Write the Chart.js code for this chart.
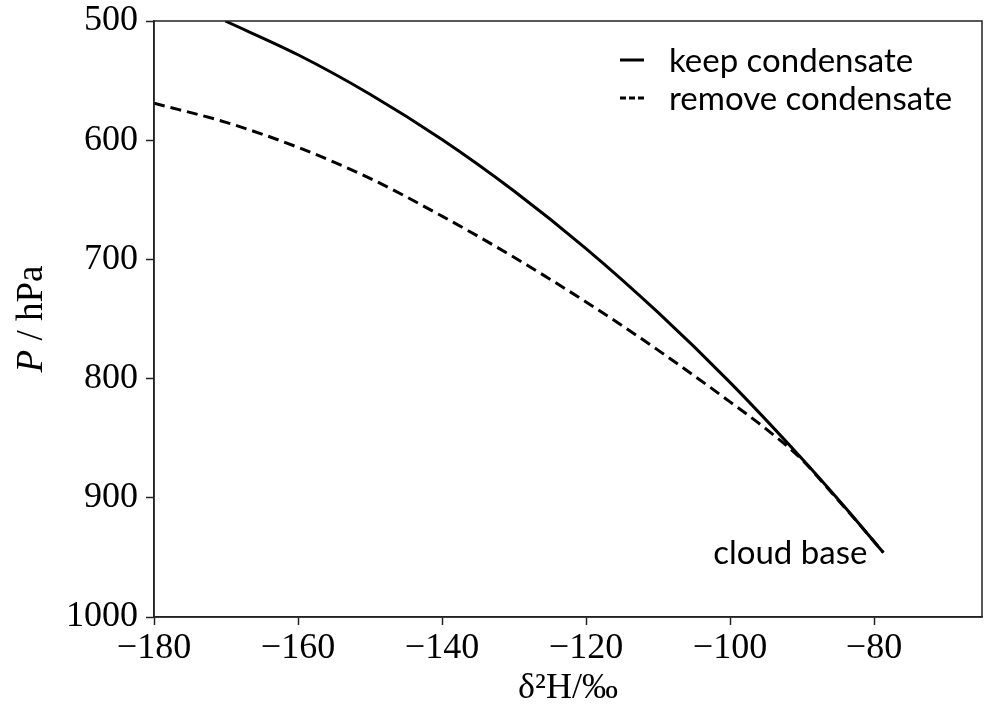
<!DOCTYPE html>
<html>
<head>
<meta charset="utf-8">
<script src="https://cdn.jsdelivr.net/npm/chart.js@4.4.0/dist/chart.umd.min.js"></script>
<style>
  html, body { margin: 0; padding: 0; background: #fff; }
  #wrap { width: 986px; height: 707px; }
</style>
</head>
<body>
<div id="wrap"><canvas id="isoChart"></canvas></div>
<script>
// keep condensate (solid line)
const keepX = [-170.1, -160, -150, -140, -130, -120, -110, -100, -90, -84, -78.7];
const keepP = [500, 528.3, 561.4, 599.4, 642.6, 690.9, 744.5, 803.2, 867.3, 908.2, 946];

// remove condensate (dashed line)
const removeX = [-180, -170, -160, -150, -140, -130, -120, -110, -100, -95, -90, -86, -82, -78.7];
const removeP = [569, 585, 606, 632, 663.7, 698.2, 735.7, 776.1, 819.5, 842.2, 868, 895, 922.5, 946];

const xTicks = [-180, -160, -140, -120, -100, -80];
const yTicks = [500, 600, 700, 800, 900, 1000];
const seriesLabels = ['keep condensate', 'remove condensate'];
const baseLabel = 'cloud base';

const serif = '"Liberation Serif", "DejaVu Serif", serif';
const sans = 'Lato, "Noto Sans", sans-serif';

function toPoints(xs, ys) {
    return xs.map((x, i) => ({ x: x, y: ys[i] }));
}

// frame on top and right, legend, y title, cloud base note
const extras = {
    id: 'extras',
    afterDatasetsDraw(chart) {
        const ctx = chart.ctx;
        const a = chart.chartArea;
        ctx.save();
        ctx.strokeStyle = '#222';
        ctx.lineWidth = 1.5;
        ctx.setLineDash([]);
        ctx.strokeRect(a.left, a.top, a.right - a.left, a.bottom - a.top);

        // legend
        ctx.fillStyle = '#000';
        ctx.font = '33px ' + sans;
        ctx.textBaseline = 'middle';
        ctx.textAlign = 'left';
        const rows = [{ y: 60, dash: [] }, { y: 98, dash: [6, 3] }];
        rows.forEach((r, i) => {
            ctx.strokeStyle = '#000';
            ctx.lineWidth = 3;
            ctx.setLineDash(r.dash);
            ctx.beginPath();
            ctx.moveTo(620, r.y);
            ctx.lineTo(644, r.y);
            ctx.stroke();
            ctx.fillText(seriesLabels[i], 669, r.y + 1);
        });
        ctx.setLineDash([]);

        // cloud base label at the end point
        const xs = chart.scales.x, ys = chart.scales.y;
        const px = xs.getPixelForValue(keepX[keepX.length - 1]);
        const py = ys.getPixelForValue(keepP[keepP.length - 1]);
        ctx.textAlign = 'right';
        ctx.fillText(baseLabel, px - 16, py + 1);

        // y axis title with italic P
        ctx.translate(32, (a.top + a.bottom) / 2);
        ctx.rotate(-Math.PI / 2);
        ctx.textAlign = 'left';
        ctx.font = 'italic 37px ' + serif;
        const w1 = ctx.measureText('P').width;
        ctx.font = '37px ' + serif;
        const rest = ' / hPa';
        const w2 = ctx.measureText(rest).width;
        const start = -(w1 + w2) / 2;
        ctx.font = 'italic 37px ' + serif;
        ctx.fillText('P', start, 0);
        ctx.font = '37px ' + serif;
        ctx.fillText(rest, start + w1, 0);
        ctx.restore();
    }
};

const isoChart = new Chart(document.getElementById('isoChart'), {
    type: 'scatter',
    data: {
        datasets: [{
            label: seriesLabels[0],
            data: toPoints(keepX, keepP),
            showLine: true,
            borderColor: '#000',
            borderWidth: 3,
            pointRadius: 0,
            cubicInterpolationMode: 'monotone'
        }, {
            label: seriesLabels[1],
            data: toPoints(removeX, removeP),
            showLine: true,
            borderColor: '#000',
            borderWidth: 3,
            borderDash: [11, 6],
            pointRadius: 0,
            cubicInterpolationMode: 'monotone'
        }]
    },
    options: {
        responsive: true,
        maintainAspectRatio: false,
        animation: false,
        layout: { padding: { top: 21, right: 4, left: 0, bottom: 0 } },
        plugins: {
            legend: { display: false },
            tooltip: { enabled: false }
        },
        scales: {
            x: {
                type: 'linear',
                min: -180,
                max: -65,
                afterBuildTicks: s => { s.ticks = xTicks.map(v => ({ value: v })); },
                afterFit: s => { s.height = 90; s.paddingLeft = 0; s.paddingRight = 0; },
                ticks: {
                    color: '#000',
                    font: { family: serif, size: 36 },
                    padding: 2,
                    maxRotation: 0,
                    autoSkip: false,
                    callback: v => (v < 0 ? '\u2212' : '') + Math.abs(v)
                },
                grid: { drawOnChartArea: false, tickLength: 8, tickColor: '#222', tickWidth: 1.5 },
                border: { display: true, color: '#222', width: 1.5 },
                title: {
                    display: true,
                    text: 'δ²H/‰',
                    color: '#000',
                    font: { family: serif, size: 36, lineHeight: 1 },
                    padding: { top: 0, bottom: 0 }
                }
            },
            y: {
                type: 'linear',
                reverse: true,
                min: 500,
                max: 1000,
                afterBuildTicks: s => { s.ticks = yTicks.map(v => ({ value: v })); },
                afterFit: s => { s.width = 154; s.paddingTop = 0; s.paddingBottom = 0; },
                ticks: {
                    color: '#000',
                    font: { family: serif, size: 36 },
                    padding: 8,
                    callback: v => String(v)
                },
                grid: { drawOnChartArea: false, tickLength: 8, tickColor: '#222', tickWidth: 1.5 },
                border: { display: true, color: '#222', width: 1.5 }
            }
        }
    },
    plugins: [extras]
});
</script>
</body>
</html>
